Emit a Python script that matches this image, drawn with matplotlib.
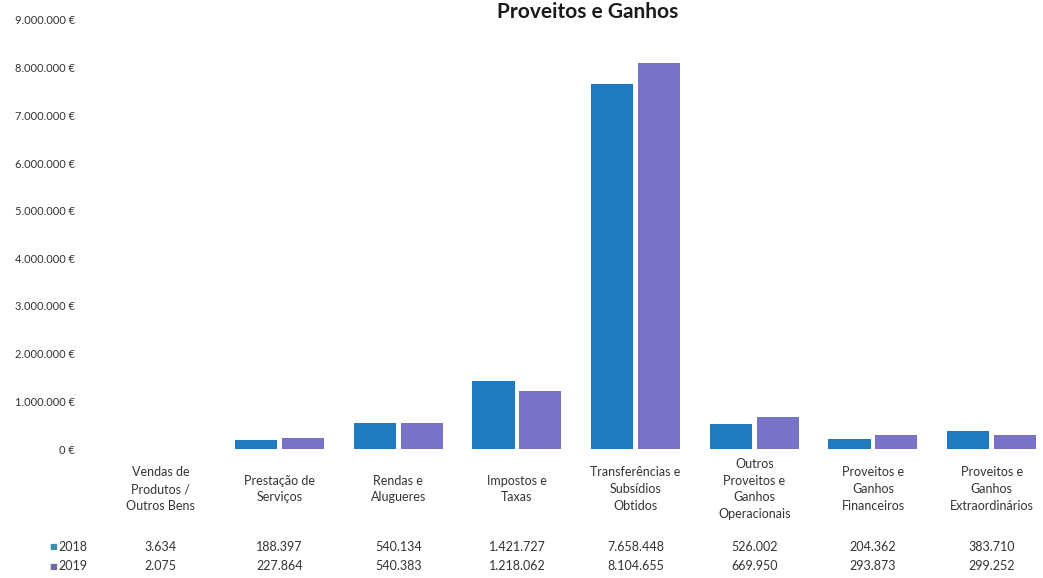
import matplotlib
matplotlib.use("Agg")
import matplotlib.pyplot as plt
import matplotlib.transforms as mtransforms
from matplotlib.ticker import FuncFormatter
import numpy as np

categories = [
    "Vendas de\nProdutos /\nOutros Bens",
    "Prestação de\nServiços",
    "Rendas e\nAlugueres",
    "Impostos e\nTaxas",
    "Transferências e\nSubsídios\nObtidos",
    "Outros\nProveitos e\nGanhos\nOperacionais",
    "Proveitos e\nGanhos\nFinanceiros",
    "Proveitos e\nGanhos\nExtraordinários",
]
series_names = ["2018", "2019"]
values_2018 = [3634, 188397, 540134, 1421727, 7658448, 526002, 204362, 383710]
values_2019 = [2075, 227864, 540383, 1218062, 8104655, 669950, 293873, 299252]
y_ticks = [0, 1000000, 2000000, 3000000, 4000000, 5000000, 6000000, 7000000, 8000000, 9000000]
title = "Proveitos e Ganhos"

colors = ["#1F7BC0", "#7872C8"]
key_colors = ["#3C8FA8", "#6C6AA0"]
FONT = ["Lato", "DejaVu Sans"]
plt.rcParams["font.family"] = FONT

W, H = 1043, 578
fig = plt.figure(figsize=(W / 100, H / 100), dpi=100)
left_px, right_px = 101.5, 1051
bottom_px, top_px = 449, 20
ax = fig.add_axes([left_px / W, (H - bottom_px) / H,
                   (right_px - left_px) / W, (bottom_px - top_px) / H])

x = np.arange(len(categories))
bw = 0.355
gap = 0.02
ax.bar(x - bw / 2 - gap, values_2018, width=bw, color=colors[0])
ax.bar(x + bw / 2 + gap, values_2019, width=bw, color=colors[1])

ax.set_xlim(-0.5, len(categories) - 0.5)
ax.set_ylim(0, 9000000)
ax.set_yticks(y_ticks)

def fmt(v, pos):
    s = f"{int(round(v)):,}".replace(",", ".")
    return f"{s} €"

ax.yaxis.set_major_formatter(FuncFormatter(fmt))
ax.tick_params(axis="y", length=0, pad=19, labelsize=8, labelcolor="#333333")
ax.tick_params(axis="x", length=0, labelbottom=False)
for sp in ax.spines.values():
    sp.set_visible(False)

trans = mtransforms.blended_transform_factory(ax.transData, fig.transFigure)
for i, cat in enumerate(categories):
    ax.text(i, 1 - 489 / H, cat, transform=trans, ha="center", va="center",
            fontsize=9, color="#333333", linespacing=1.45, clip_on=False)
    ax.text(i, 1 - 547 / H, fmt(values_2018[i], None)[:-2], transform=trans,
            ha="center", va="center", fontsize=9, color="#333333", clip_on=False)
    ax.text(i, 1 - 566 / H, fmt(values_2019[i], None)[:-2], transform=trans,
            ha="center", va="center", fontsize=9, color="#333333", clip_on=False)

for k, (name, yy) in enumerate(zip(series_names, [547, 566])):
    fig.text(53 / W, 1 - yy / H, "■", color=key_colors[k], fontsize=6,
             ha="center", va="center", family=["DejaVu Sans"])
    fig.text(58 / W, 1 - yy / H, name, color="#333333", fontsize=9,
             ha="left", va="center")

fig.text(588 / W, 1 - 2 / H, title, ha="center", va="top",
         fontsize=15, fontweight="bold", color="#1a1a1a")

fig.savefig("out.png", dpi=100, facecolor="white")
